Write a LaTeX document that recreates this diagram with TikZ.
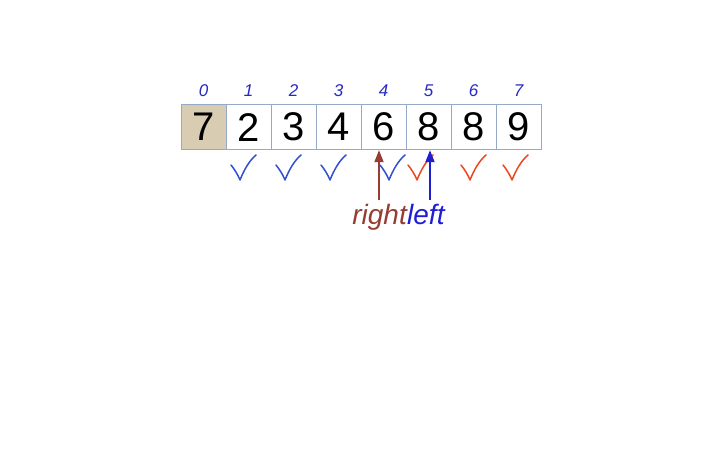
\documentclass[tikz,border=0pt]{standalone}
\usepackage{fontspec}
\usetikzlibrary{arrows.meta}
\setmainfont{Liberation Sans}
\definecolor{boxline}{RGB}{150,170,200}
\definecolor{tan}{RGB}{216,204,178}
\definecolor{idxblue}{RGB}{40,40,200}
\definecolor{chkblue}{RGB}{50,80,210}
\definecolor{chkred}{RGB}{240,70,30}
\definecolor{brownish}{RGB}{150,60,50}
\definecolor{leftblue}{RGB}{30,30,210}
\begin{document}
\begin{tikzpicture}[x=1pt,y=-1pt,
  cell/.style={draw=boxline,line width=1.2pt,minimum width=45pt,minimum height=45pt,inner sep=0pt,font=\fontsize{40}{40}\selectfont,anchor=north west},
  idx/.style={text=idxblue,font=\fontsize{17}{17}\selectfont\itshape},
  chk/.style={line width=1.5pt,line cap=round,line join=round},
  ptr/.style={line width=1.8pt,-{Triangle[length=12pt,width=9pt]}},
  lbl/.style={font=\fontsize{28}{28}\selectfont\itshape,inner sep=0pt}]
\useasboundingbox (0,0) rectangle (720,450);
\fill[white] (0,0) rectangle (720,450);
\foreach \v [count=\i from 0] in {7,2,3,4,6,8,8,9}{
  \pgfmathsetmacro{\xx}{181+45*\i}
  \ifnum\i=0
    \node[cell,fill=tan] (c\i) at (\xx,104) {\v};
  \else
    \node[cell,fill=white] (c\i) at (\xx,104) {\v};
  \fi
  \node[idx] (i\i) at (\xx+22.5,91) {\i};
}
\foreach \cx/\col in {243/chkblue,288/chkblue,333/chkblue,392/chkblue,420/chkred,473/chkred,515/chkred}{
  \draw[chk,\col] (\cx-12,165) .. controls (\cx-8,170) and (\cx-5,175) .. (\cx-3,180)
     .. controls (\cx+1,170) and (\cx+6,161) .. (\cx+13,155);
}
\node[lbl,text=brownish,anchor=base east] (rt) at (407,224) {right};
\node[lbl,text=leftblue,anchor=base west] (lf) at (rt.base east) {left};
\coordinate (ra) at (379,200);
\coordinate (la) at (430,200);
\draw[ptr,brownish] (ra) -- (ra |- c4.south);
\draw[ptr,leftblue] (la) -- (la |- c5.south);
\end{tikzpicture}
\end{document}
